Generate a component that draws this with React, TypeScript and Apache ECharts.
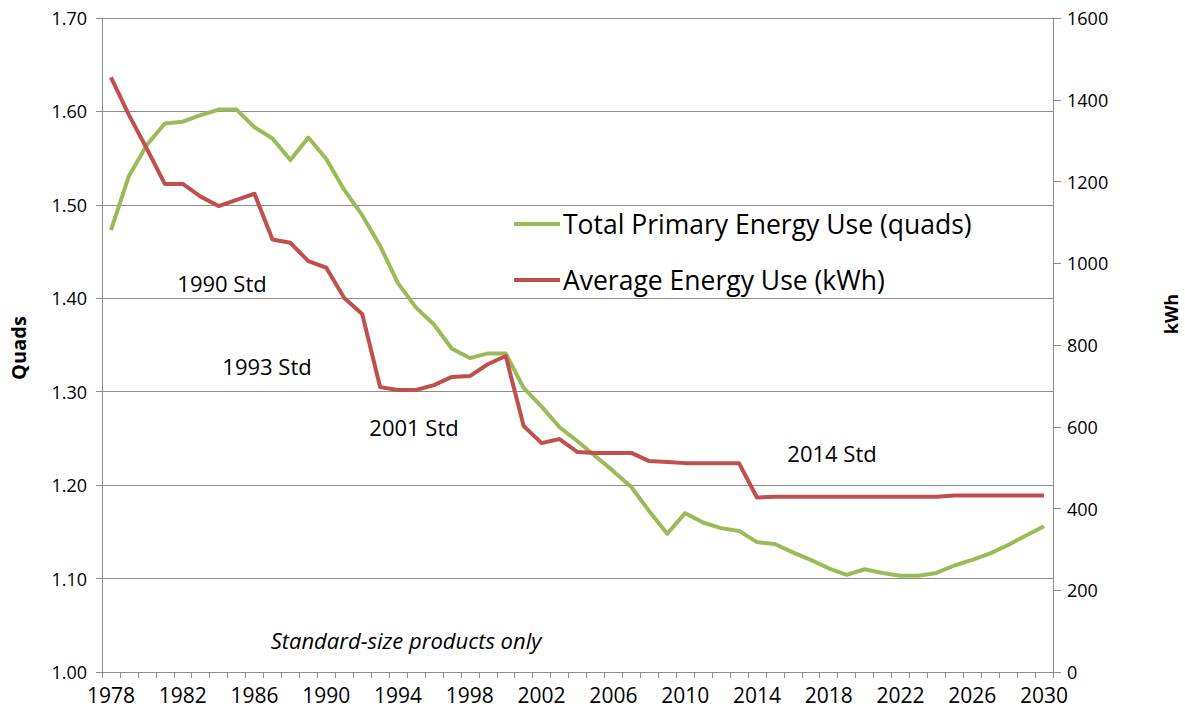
import React, { useEffect, useRef } from "react";
import * as echarts from "echarts";

const years: string[] = [
  "1978","1979","1980","1981","1982","1983","1984","1985","1986","1987",
  "1988","1989","1990","1991","1992","1993","1994","1995","1996","1997",
  "1998","1999","2000","2001","2002","2003","2004","2005","2006","2007",
  "2008","2009","2010","2011","2012","2013","2014","2015","2016","2017",
  "2018","2019","2020","2021","2022","2023","2024","2025","2026","2027",
  "2028","2029","2030",
];

const totalPrimaryQuads: number[] = [
  1.473, 1.531, 1.564, 1.587, 1.589, 1.596, 1.602, 1.602, 1.583, 1.571,
  1.548, 1.572, 1.549, 1.516, 1.489, 1.456, 1.416, 1.390, 1.372, 1.346,
  1.336, 1.341, 1.341, 1.304, 1.284, 1.262, 1.247, 1.231, 1.215, 1.198,
  1.172, 1.148, 1.170, 1.160, 1.154, 1.151, 1.139, 1.137, 1.128, 1.120,
  1.111, 1.104, 1.110, 1.106, 1.103, 1.103, 1.106, 1.114, 1.120, 1.127,
  1.136, 1.146, 1.156,
];

const averageKwh: number[] = [
  1455, 1363, 1280, 1194, 1194, 1163, 1140, 1155, 1170, 1058,
  1050, 1005, 989, 915, 876, 697, 690, 690, 702, 722,
  724, 753, 773, 602, 560, 570, 538, 536, 536, 536,
  516, 514, 511, 511, 511, 511, 427, 429, 429, 429,
  429, 429, 429, 429, 429, 429, 429, 432, 432, 432,
  432, 432, 432,
];

const seriesNames = ["Total Primary Energy Use (quads)", "Average Energy Use (kWh)"];

const annotations = [
  { text: "1990 Std", x: 222, y: 283 },
  { text: "1993 Std", x: 267, y: 366 },
  { text: "2001 Std", x: 414, y: 427 },
  { text: "2014 Std", x: 832, y: 453 },
];

const FONT = "'Open Sans', 'Noto Sans', sans-serif";
const GRID_COLOR = "#8c8c8c";

export default function App() {
  const ref = useRef<HTMLDivElement>(null);

  useEffect(() => {
    if (!ref.current) return;
    const chart = echarts.init(ref.current, undefined, { renderer: "svg" });
    chart.setOption({
      animation: false,
      backgroundColor: "#ffffff",
      textStyle: { fontFamily: FONT },
      grid: { left: 102, right: 132, top: 18, bottom: 38, containLabel: false },
      legend: {
        orient: "vertical",
        left: 509,
        top: 204,
        icon: "rect",
        itemWidth: 46,
        itemHeight: 4,
        itemGap: 26,
        data: seriesNames,
        textStyle: { fontFamily: FONT, fontSize: 26.5, color: "#000", lineHeight: 30, padding: [0, 0, 0, -2] },
      },
      xAxis: {
        type: "category",
        data: years,
        boundaryGap: true,
        axisLine: { lineStyle: { color: GRID_COLOR, width: 1 } },
        axisTick: { show: true, interval: 0, length: 6, lineStyle: { color: GRID_COLOR } },
        axisLabel: { interval: 3, fontSize: 21, color: "#000", margin: 12, fontFamily: FONT },
        splitLine: { show: false },
      },
      yAxis: [
        {
          type: "value",
          min: 1.0,
          max: 1.7,
          interval: 0.1,
          position: "left",
          axisLine: { show: true, lineStyle: { color: GRID_COLOR } },
          axisTick: { show: true, length: 6, lineStyle: { color: GRID_COLOR } },
          axisLabel: {
            fontSize: 18,
            color: "#000",
            margin: 15,
            fontFamily: FONT,
            formatter: (v: number) => v.toFixed(2),
          },
          splitLine: { show: true, lineStyle: { color: GRID_COLOR, width: 1 } },
        },
        {
          type: "value",
          min: 0,
          max: 1600,
          interval: 200,
          position: "right",
          axisLine: { show: true, lineStyle: { color: GRID_COLOR } },
          axisTick: { show: true, length: 8, lineStyle: { color: GRID_COLOR } },
          axisLabel: {
            fontSize: 18,
            color: "#000",
            margin: 14,
            fontFamily: FONT,
            formatter: (v: number) => String(v),
          },
          splitLine: { show: false },
        },
      ],
      series: [
        {
          name: seriesNames[0],
          type: "line",
          yAxisIndex: 0,
          data: totalPrimaryQuads,
          symbol: "none",
          showSymbol: false,
          color: "#9BBB59",
          lineStyle: { color: "#9BBB59", width: 4, join: "round" },
          z: 2,
        },
        {
          name: seriesNames[1],
          type: "line",
          yAxisIndex: 1,
          data: averageKwh,
          symbol: "none",
          showSymbol: false,
          color: "#C0504D",
          lineStyle: { color: "#C0504D", width: 4, join: "round" },
          z: 3,
        },
      ],
      graphic: [
        ...annotations.map((a) => ({
          type: "text",
          x: a.x,
          y: a.y,
          style: {
            text: a.text,
            fontSize: 22,
            fontFamily: FONT,
            fill: "#000",
            align: "center",
            verticalAlign: "middle",
          },
        })),
        {
          type: "text",
          x: 406,
          y: 640,
          style: {
            text: "Standard-size products only",
            fontSize: 22,
            fontStyle: "italic",
            fontFamily: FONT,
            fill: "#000",
            align: "center",
            verticalAlign: "middle",
          },
        },
        {
          type: "text",
          x: 18,
          y: 348,
          rotation: Math.PI / 2,
          style: {
            text: "Quads",
            fontSize: 20,
            fontWeight: "bold",
            fontFamily: FONT,
            fill: "#000",
            align: "center",
            verticalAlign: "middle",
            lineHeight: 20,
          },
        },
        {
          type: "text",
          x: 1171,
          y: 314,
          rotation: Math.PI / 2,
          style: {
            text: "kWh",
            fontSize: 18,
            fontWeight: "bold",
            fontFamily: FONT,
            fill: "#000",
            align: "center",
            verticalAlign: "middle",
            lineHeight: 18,
          },
        },
      ],
    });
    return () => chart.dispose();
  }, []);

  return (
    <div
      ref={ref}
      style={{ position: "fixed", left: 0, top: 0, width: 1185, height: 710, background: "#fff" }}
    />
  );
}
